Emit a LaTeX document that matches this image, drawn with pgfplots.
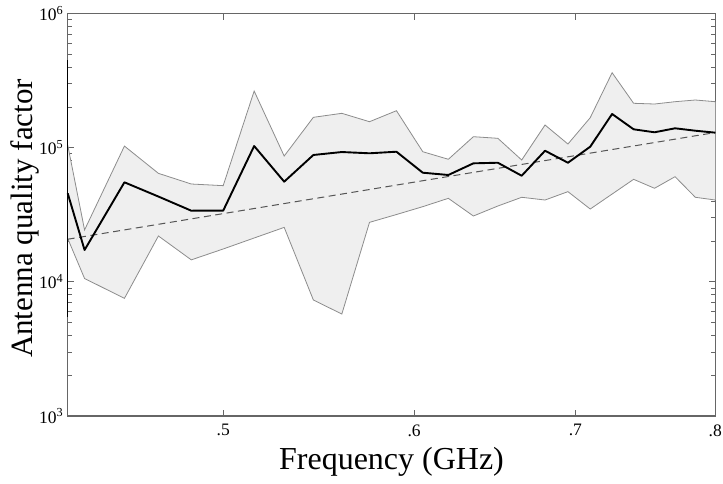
\documentclass[border=0pt]{standalone}
\usepackage{fontspec}
\setmainfont{Liberation Serif}
\usepackage{pgfplots}
\pgfplotsset{compat=1.18}
\usepackage{pgfplotstable}
\usepgfplotslibrary{fillbetween}

\definecolor{bandfill}{HTML}{EFEFEF}
\definecolor{bandline}{HTML}{8C8C8C}
\definecolor{axisgray}{HTML}{666666}
\definecolor{dashgray}{HTML}{555555}

\pgfplotstableread{
x     lo     mean    up
0.431 21100  45800   105000
0.438 10600  17300   24400
0.455 7540   55300   103000
0.470 22000  43300   64500
0.485 14600  33960   53700
0.500 17600  34000   52200
0.515 21250  103100  265000
0.530 25500  55900   86800
0.545 7330   88400   168800
0.560 5760   93000   180800
0.575 27800  91000   156500
0.590 31800  93500   189100
0.605 36400  65200   93500
0.620 42000  62700   82100
0.635 31000  76600   121000
0.650 36800  77400   117700
0.665 42750  61900   81100
0.680 40800  95100   147900
0.695 47100  77400   106700
0.710 34950  101900  167700
0.725 45200  178700  363000
0.740 58200  137400  214700
0.755 49900  130500  212100
0.770 60900  139800  220700
0.785 42750  134100  227200
0.800 40800  129700  220700
}\datatable

\pgfplotstableread{
x     fit
0.431 20800
0.800 130000
}\fittable

\begin{document}
\begin{tikzpicture}
\begin{axis}[
  at={(0pt,0pt)}, anchor=south west,
  scale only axis,
  width=647.6pt, height=402.3pt,
  xmode=log, ymode=log,
  xmin=0.431, xmax=0.8,
  ymin=1e3, ymax=1e6,
  xtick={0.5,0.6,0.7,0.8},
  xticklabels={.5,.6,.7,.8},
  xminorticks=false,
  ytick={1e3,1e4,1e5,1e6},
  yticklabels={10\textsuperscript{3},10\textsuperscript{4},10\textsuperscript{5},10\textsuperscript{6}},
  tick align=inside,
  major tick length=6pt,
  minor tick length=4pt,
  axis line style={axisgray, line width=1.1pt},
  every tick/.style={axisgray, line width=0.9pt},
  tick label style={font=\fontsize{17.5}{20}\selectfont, black},
  xticklabel style={yshift=-5pt},
  yticklabel style={xshift=-1pt},
  xlabel={Frequency (GHz)},
  ylabel={Antenna quality factor},
  xlabel style={font=\fontsize{32}{36}\selectfont, at={(axis description cs:0.5,0)}, anchor=base, yshift=-54pt},
  ylabel style={font=\fontsize{31}{36}\selectfont, at={(axis description cs:0,0.5)}, anchor=base, xshift=-3.6pt, yshift=34.7pt},
  clip=false,
]
\addplot[draw=none, name path=up, forget plot] table[x=x, y=up] {\datatable};
\addplot[draw=none, name path=lo, forget plot] table[x=x, y=lo] {\datatable};
\addplot[bandfill, forget plot] fill between[of=up and lo];
\addplot[bandline, line width=0.8pt] table[x=x, y=up] {\datatable};
\addplot[bandline, line width=0.8pt] table[x=x, y=lo] {\datatable};
\addplot[dashgray, line width=1pt, dash pattern=on 7pt off 4.5pt] table[x=x, y=fit] {\fittable};
\addplot[black, line width=1.9pt, line join=round] table[x=x, y=mean] {\datatable};
\addplot[black, line width=1.4pt] coordinates {(0.431,4.5e5) (0.431,5.5e3)};
\end{axis}
\pgfresetboundingbox
\path[use as bounding box] (-67.7pt,-68pt) rectangle (655.3pt,416pt);
\end{tikzpicture}
\end{document}
